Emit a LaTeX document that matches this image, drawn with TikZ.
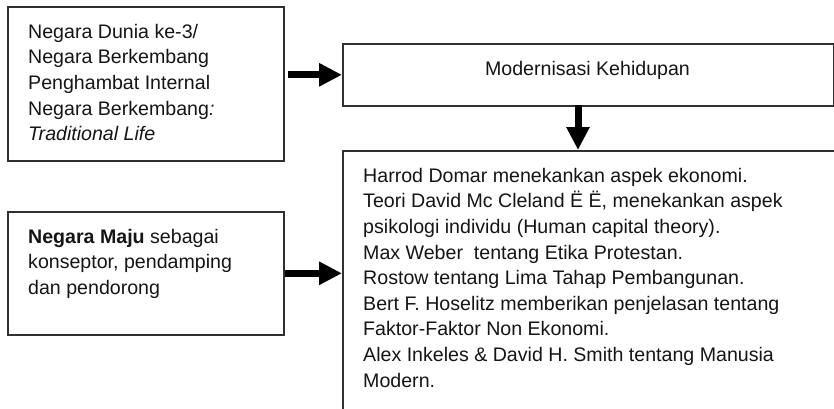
\documentclass[tikz,border=0pt]{standalone}
\usepackage{fontspec}
\setmainfont{Liberation Sans}
\usetikzlibrary{arrows.meta}
\definecolor{edge}{HTML}{303030}
\definecolor{ink}{HTML}{151515}
\begin{document}
\begin{tikzpicture}[x=1pt,y=-1pt,
  box/.style={draw=edge, line width=1.6pt, rectangle, inner sep=0pt, anchor=north west, fill=none},
  txt/.style={inner sep=0pt, anchor=north west, align=left, text=ink,
    font=\fontsize{19.6pt}{25.6pt}\selectfont},
  bigarrow/.style={draw=black, line width=7pt, -{Triangle[length=23pt,width=22pt]}}]
\useasboundingbox (0,0) rectangle (834,408);
% boxes
\node[box, minimum width=276pt, minimum height=154pt] (ltop) at (7,6) {};
\node[box, minimum width=276pt, minimum height=123pt] (lbot) at (7,211) {};
\node[box, minimum width=491pt, minimum height=62pt] (mod) at (342,43) {};
\node[box, minimum width=560pt, minimum height=320pt] (big) at (342,150) {};
% texts
\node[txt] (tltop) at (28,23) {\rule{0pt}{15pt}Negara Dunia ke-3/\\Negara Berkembang\\Penghambat Internal\\Negara Berkembang\textit{:}\\\textit{Traditional Life}};
\node[txt] (tlbot) at (28,228) {\rule{0pt}{15pt}\textbf{Negara Maju} sebagai\\konseptor, pendamping\\dan pendorong};
\node[txt, anchor=base] (tmod) at (587.5,75) {Modernisasi Kehidupan};
\node[txt] (tbig) at (363,167) {\rule{0pt}{15pt}Harrod Domar menekankan aspek ekonomi.\\
Teori David Mc Cleland Ë Ë, menekankan aspek\\
psikologi individu (Human capital theory).\\
Max Weber~ tentang Etika Protestan.\\
Rostow tentang Lima Tahap Pembangunan.\\
Bert F. Hoselitz memberikan penjelasan tentang\\
Faktor-Faktor Non Ekonomi.\\
Alex Inkeles \& David H. Smith tentang Manusia\\
Modern.};
% connectors
\draw[bigarrow, shorten <=3pt] (ltop.east |- mod.west) -- (mod.west);
\draw[bigarrow] (lbot.east) -- (lbot.east -| big.west);
\coordinate (vtop) at (578,105);
\draw[bigarrow] (vtop) -- (vtop |- big.north);
\end{tikzpicture}
\end{document}
